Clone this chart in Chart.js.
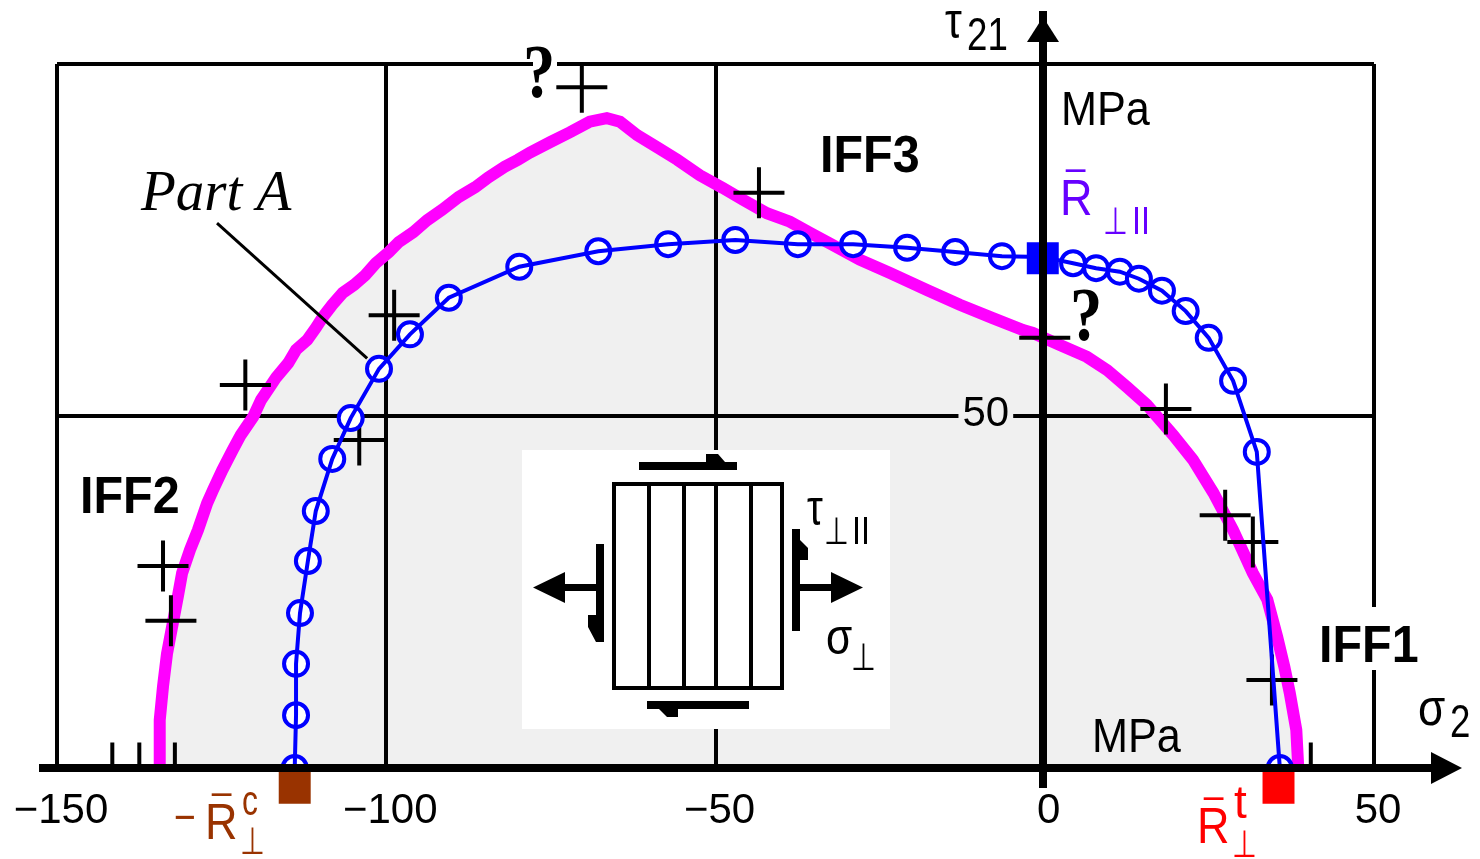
<!DOCTYPE html>
<html>
<head>
<meta charset="utf-8">
<title>IFF fracture curve</title>
<script src="https://cdn.jsdelivr.net/npm/chart.js@4/dist/chart.umd.min.js"></script>
<style>
	html, body { margin: 0; background: #fff; }
	canvas { display: block; }
</style>
</head>
<body>
<canvas id="fractureChart" width="1480" height="859"></canvas>
<script>
// DATA //
const curveX = [-134.5, -134.4, -133.9, -133.3, -131.6, -131.0, -129.8, -128.6, -127.2, -126.3, -124.9, -123.3, -122.1, -120.2, -119.0, -117.7, -116.7, -114.9, -113.7, -112.0, -110.7, -109.6, -108.2, -106.6, -104.9, -103.2, -101.6, -99.6, -98.1, -95.9, -93.8, -91.5, -89.0, -86.5, -84.5, -82.0, -80.0, -78.2, -75.1, -72.1, -69.1, -66.5, -64.5, -61.9, -58.9, -55.8, -52.4, -48.9, -45.8, -42.2, -38.7, -35.6, -32.2, -28.1, -23.5, -17.9, -12.9, -7.9, -3.3, -1.8, 2.3, 6.4, 9.5, 12.5, 15.5, 19.5, 22.5, 25.6, 28.6, 31.6, 33.8, 35.3, 36.4, 37.2, 38.2, 38.5];
const curveY = [0, 6.8, 11.6, 16.2, 24.6, 27.7, 31.0, 33.8, 37.6, 39.5, 42.3, 45.2, 47.3, 49.9, 52.3, 54.1, 55.5, 57.5, 59.4, 60.8, 62.5, 64.1, 65.8, 67.5, 68.6, 70.0, 71.7, 73.3, 74.7, 76.1, 77.8, 79.3, 81.1, 82.5, 83.9, 85.4, 86.4, 87.4, 88.9, 90.3, 91.8, 92.3, 91.8, 89.9, 88.2, 86.4, 84.2, 82.4, 80.7, 78.8, 77.6, 76.0, 74.3, 72.2, 70.3, 67.9, 65.8, 63.9, 62.2, 61.8, 60.1, 58.4, 56.5, 54.1, 51.6, 47.3, 43.8, 39.1, 33.8, 27.7, 23.9, 18.6, 14.3, 10.7, 5.4, 0];

const circleX = [-113.9, -113.7, -113.7, -113.1, -111.9, -110.7, -108.2, -105.4, -101.1, -96.4, -90.5, -79.8, -67.8, -57.2, -47.0, -37.5, -29.1, -20.9, -13.6, -6.5, -0.3, 4.3, 7.8, 11.4, 14.3, 17.8, 21.4, 24.9, 28.6, 32.2, 35.7];
const circleY = [0, 7.5, 14.8, 22.0, 29.4, 36.5, 43.9, 49.7, 56.7, 61.6, 66.8, 71.2, 73.4, 74.4, 75.0, 74.4, 74.4, 73.9, 73.3, 72.7, 72.6, 71.7, 71.0, 70.5, 69.5, 67.8, 64.9, 61.1, 55.0, 44.9, 0];

const testX = [-98.8, -121.4, -104.1, -133.9, -132.7, -70.3, -43.4, 18.4, 0, 27.4, 31.6, 34.5, -141.6, -137.5, -132.1, 40.4];
const testY = [64.3, 54.4, 46.6, 28.7, 20.9, 96.7, 81.7, 51.0, 61.1, 35.9, 32.1, 12.5, 0, 0, 0, 0];

const leaderX = [-125.7, -102.9];
const leaderY = [77.4, 58.2];

const xTicks = { '-150': '\u2212150', '-100': '\u2212100', '-50': '\u221250', '0': '0', '50': '50' };
const yTicks = { '50': '50' };

const strengthPoints = [
	{ x: -113.9, y: -2.8, color: '#993300' },
	{ x: 35.5, y: -2.8, color: '#ff0000' },
	{ x: -0.3, y: 72.4, color: '#0000ff' }
];

const pts = (xs, ys) => xs.map((x, i) => ({ x: x, y: ys[i] }));

const sans = '"Liberation Sans", sans-serif';
const perp = '"DejaVu Sans"';
// text, x, baseline y, font, colour, horizontal squeeze
const labels = [
	['IFF2', 80, 513, 'bold 51px ' + sans, '#000', 0.95],
	['IFF3', 820, 172, 'bold 51px ' + sans, '#000', 0.95],
	['IFF1', 1319, 662, 'bold 51px ' + sans, '#000', 0.95],
	['?', 523, 97, 'bold 76px "Liberation Serif"', '#000', 0.85],
	['?', 1070, 340, 'bold 76px "Liberation Serif"', '#000', 0.85],
	['Part A', 141, 210, 'italic 57px "Liberation Serif"', '#000', 1],
	['\u03c4', 945, 38, '50px ' + sans, '#000', 0.85],
	['21', 967, 50, '47px ' + sans, '#000', 0.78],
	['\u03c3', 1418, 725, '52px ' + sans, '#000', 0.85],
	['2', 1450, 737, '47px ' + sans, '#000', 0.78],
	['MPa', 1061, 125, '48px ' + sans, '#000', 0.9],
	['MPa', 1092, 752, '48px ' + sans, '#000', 0.9],
	['R', 1060, 215, '50px ' + sans, '#6600ff', 0.9],
	['\u00af', 1066, 213, '58px ' + sans, '#6600ff', 0.6],
	['\u22a5', 1103, 234, '38px ' + perp, '#6600ff', 0.75],
	['II', 1132, 234, '38px ' + sans, '#6600ff', 0.85],
	['\u2212', 174, 832, '44px ' + sans, '#993300', 0.85],
	['R', 205, 839, '50px ' + sans, '#993300', 0.9],
	['\u00af', 212, 837, '58px ' + sans, '#993300', 0.6],
	['c', 242, 815, '42px ' + sans, '#993300', 0.76],
	['\u22a5', 240, 854, '38px ' + perp, '#993300', 0.75],
	['R', 1197, 843, '50px ' + sans, '#ff0000', 0.9],
	['\u00af', 1204, 841, '58px ' + sans, '#ff0000', 0.6],
	['t', 1234, 818, '46px ' + sans, '#ff0000', 1],
	['\u22a5', 1232, 857, '38px ' + perp, '#ff0000', 0.75],
	['\u03c4', 807, 525, '50px ' + sans, '#000', 0.8],
	['\u22a5', 824, 544, '38px ' + perp, '#000', 0.75],
	['II', 852, 544, '38px ' + sans, '#000', 0.85],
	['\u03c3', 826, 654, '50px ' + sans, '#000', 0.85],
	['\u22a5', 851, 670, '38px ' + perp, '#000', 0.75]
];

const poly = (ctx, points) => {
	ctx.beginPath();
	points.forEach((p, i) => i ? ctx.lineTo(p[0], p[1]) : ctx.moveTo(p[0], p[1]));
	ctx.closePath();
	ctx.fill();
};

const bar = (ctx, x0, y0, x1, y1) => ctx.fillRect(x0, y0, x1 - x0, y1 - y0);

// white inset with the loaded ply element
const drawInset = (ctx) => {
	ctx.fillStyle = '#fff';
	bar(ctx, 522, 450, 890, 729);
	ctx.fillStyle = '#000';
	ctx.strokeStyle = '#000';
	ctx.lineWidth = 4;
	ctx.strokeRect(614, 484, 168, 204);
	[649, 684, 716, 751].forEach((x) => bar(ctx, x - 2, 484, x + 2, 688));
	// shear bars
	bar(ctx, 639, 462, 737, 470);
	poly(ctx, [[706, 462], [706, 454], [718, 454], [725, 462]]);
	bar(ctx, 647, 701, 749, 709);
	poly(ctx, [[659, 709], [678, 709], [678, 717], [667, 717]]);
	bar(ctx, 596, 544, 604, 642);
	poly(ctx, [[596, 615], [588, 615], [588, 627], [596, 642]]);
	bar(ctx, 792, 529, 800, 631);
	poly(ctx, [[800, 540], [800, 560], [808, 560], [808, 548]]);
	// tension arrows
	bar(ctx, 550, 584, 596, 591);
	poly(ctx, [[533, 587.5], [565, 572], [565, 603]]);
	bar(ctx, 800, 584, 840, 591);
	poly(ctx, [[863, 587.5], [831, 572], [831, 603]]);
};

const overlayPlugin = {
	id: 'overlay',
	afterDatasetsDraw(chart) {
		const ctx = chart.ctx;
		const x0 = 1043; // the original's zero sits a little left of true scale
		const y0 = chart.scales.y.getPixelForValue(0);
		ctx.save();
		drawInset(ctx);
		// axes run past the frame and end in arrows
		ctx.fillStyle = '#000';
		bar(ctx, 39, y0 - 4, 1450, y0 + 4);
		bar(ctx, x0 - 4, 11, x0 + 4, 788);
		poly(ctx, [[x0 - 16, 42], [x0 + 16, 42], [x0, 17]]);
		poly(ctx, [[1431, y0 - 16], [1431, y0 + 16], [1462, y0]]);
		// text sits on white where it breaks a frame line
		ctx.fillStyle = '#fff';
		bar(ctx, 533, 60, 557, 68);
		bar(ctx, 1366, 607, 1382, 670);
		ctx.textBaseline = 'alphabetic';
		ctx.textAlign = 'left';
		labels.forEach((l) => {
			ctx.save();
			ctx.translate(l[1], l[2]);
			ctx.scale(l[5], 1);
			ctx.font = l[3];
			ctx.fillStyle = l[4];
			ctx.fillText(l[0], 0, 0);
			ctx.restore();
		});
		ctx.restore();
	}
};

// CHART //
const chart = new Chart('fractureChart', {
	type: 'scatter',
	plugins: [overlayPlugin],
	data: {
		datasets: [
			{
				label: 'Fracture curve',
				data: pts(curveX, curveY),
				showLine: true,
				borderColor: '#ff00ff',
				borderWidth: 12,
				pointRadius: 0,
				fill: { value: 0 },
				backgroundColor: 'rgba(0,0,0,0.059)',
				order: 5
			},
			{
				label: 'Test data',
				data: pts(testX, testY),
				pointStyle: 'cross',
				pointRadius: 25.5,
				pointBorderWidth: 4,
				pointBorderColor: '#000',
				order: 4
			},
			{
				label: 'Second curve points',
				data: pts(circleX, circleY),
				pointRadius: 12,
				pointBorderWidth: 4,
				pointBorderColor: '#0000ff',
				pointBackgroundColor: '#fff',
				order: 3
			},
			{
				label: 'Second curve',
				data: pts(circleX, circleY),
				showLine: true,
				borderColor: '#0000ff',
				borderWidth: 4,
				pointRadius: 0,
				order: 2
			},
			{
				label: 'Part A leader',
				data: pts(leaderX, leaderY),
				showLine: true,
				borderColor: '#000',
				borderWidth: 3,
				pointRadius: 0,
				order: 1
			},
			{
				label: 'Strengths',
				data: strengthPoints.map((p) => ({ x: p.x, y: p.y })),
				pointStyle: 'rect',
				pointRadius: 22.6,
				pointBorderWidth: 0,
				pointBackgroundColor: strengthPoints.map((p) => p.color),
				clip: false,
				order: 0
			}
		]
	},
	options: {
		responsive: false,
		animation: false,
		layout: { padding: { left: 57, right: 106, top: 64, bottom: 91 } },
		plugins: { legend: { display: false }, tooltip: { enabled: false } },
		scales: {
			x: {
				type: 'linear',
				position: { y: 0 },
				min: -150,
				max: 50,
				grid: { color: '#000', lineWidth: 4, drawTicks: false },
				border: { color: '#000', width: 8 },
				// keep the frame where it is, the end labels may overhang
				afterFit: (s) => { s.paddingLeft = 0; s.paddingRight = 0; },
				ticks: {
					stepSize: 50,
					maxRotation: 0,
					padding: 18,
					labelOffset: 4,
					color: '#000',
					font: { family: sans, size: 42 },
					callback: (v) => xTicks[v]
				}
			},
			y: {
				type: 'linear',
				// tick padding is ignored on a positioned axis, so the label column is set here
				position: { x: -5.4 },
				min: 0,
				max: 100,
				grid: { color: '#000', lineWidth: 4, drawTicks: false },
				border: { display: false },
				ticks: {
					stepSize: 50,
					labelOffset: -2,
					color: '#000',
					font: { family: sans, size: 42 },
					showLabelBackdrop: (c) => c.tick.value === 50,
					backdropColor: '#fff',
					backdropPadding: { x: 4, y: 0 },
					callback: (v) => yTicks[v] || ''
				}
			}
		}
	}
});
</script>
</body>
</html>
